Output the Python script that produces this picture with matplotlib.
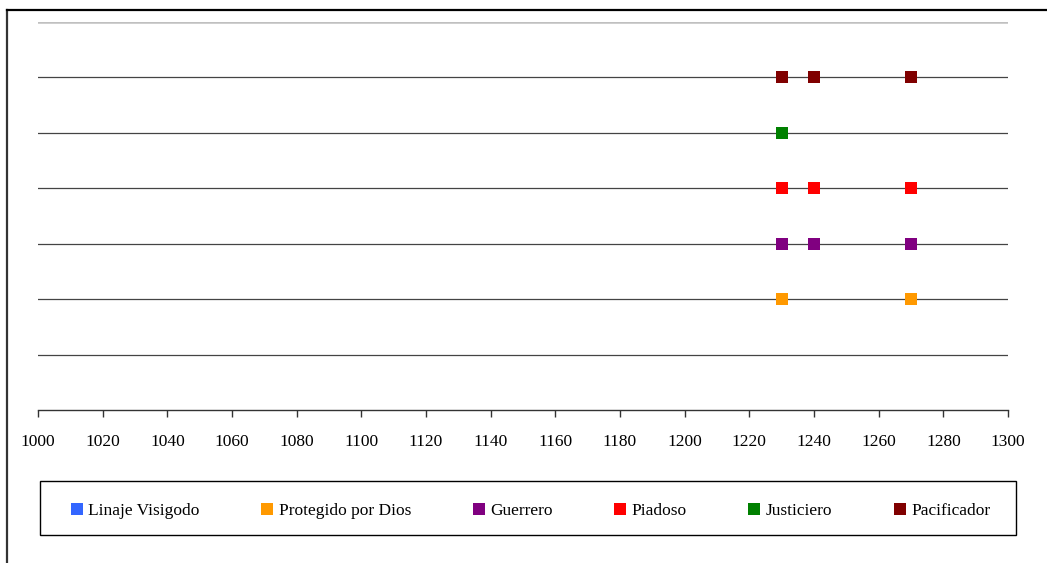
import matplotlib.pyplot as plt
from matplotlib.lines import Line2D
from matplotlib.patches import Rectangle

plt.rcParams['font.family'] = ['Liberation Serif', 'DejaVu Serif']

# Atributos del monarca por año de aparición en las fuentes
series = ['Linaje Visigodo', 'Protegido por Dios', 'Guerrero',
          'Piadoso', 'Justiciero', 'Pacificador']
colores = ['#3366FF', '#FF9900', '#800080', '#FF0000', '#008000', '#800000']
niveles = [1, 2, 3, 4, 5, 6]
anios = [
    [],
    [1230, 1270],
    [1230, 1240, 1270],
    [1230, 1240, 1270],
    [1230],
    [1230, 1240, 1270],
]
xticks = list(range(1000, 1301, 20))

W, H = 1047, 563
fig = plt.figure(figsize=(W / 100, H / 100), dpi=100)
ax = fig.add_axes([38 / W, 1 - 410 / H, 970 / W, 388 / H])

# líneas horizontales de cada nivel
for y in range(1, 7):
    ax.axhline(y, color='#444444', lw=0.9, zorder=1)
ax.axhline(7, color='#c0c0c0', lw=1.8, zorder=1)

for nombre, color, nivel, xs in zip(series, colores, niveles, anios):
    ax.plot(xs, [nivel] * len(xs), ls='none', marker='s', ms=9.2,
            color=color, markeredgewidth=0, label=nombre, zorder=3)

ax.set_xlim(1000, 1300)
ax.set_ylim(0, 7)
ax.set_xticks(xticks)
ax.set_yticks([])
for s in ['left', 'right', 'top']:
    ax.spines[s].set_visible(False)
ax.spines['bottom'].set_color('#333333')
ax.spines['bottom'].set_linewidth(1.0)
ax.tick_params(axis='x', direction='out', length=5, width=1, color='#333333',
               pad=12, labelsize=12.5)

# leyenda sin marco; el recuadro se dibuja aparte
handles = [Line2D([], [], ls='none', marker='s', ms=9, color=c,
                  markeredgewidth=0) for c in colores]
leg = fig.legend(handles, series, ncol=6, loc='center left',
                 bbox_to_anchor=(71 / W, 1 - 511 / H),
                 frameon=False, fontsize=12.5, handlelength=0.7,
                 handletextpad=0.3, columnspacing=3.55,
                 borderpad=0, borderaxespad=0)
fig.add_artist(Rectangle((40 / W, 1 - 535 / H), 976 / W, 54 / H,
                         transform=fig.transFigure, fill=False,
                         edgecolor='black', lw=1.0))

# marco exterior del gráfico
fig.add_artist(Line2D([7 / W, 7 / W], [0, 1 - 10 / H],
                      color='#333333', lw=1.6))
fig.add_artist(Line2D([7 / W, 1], [1 - 10 / H, 1 - 10 / H],
                      color='black', lw=1.6))

fig.savefig('out.png', dpi=100)
